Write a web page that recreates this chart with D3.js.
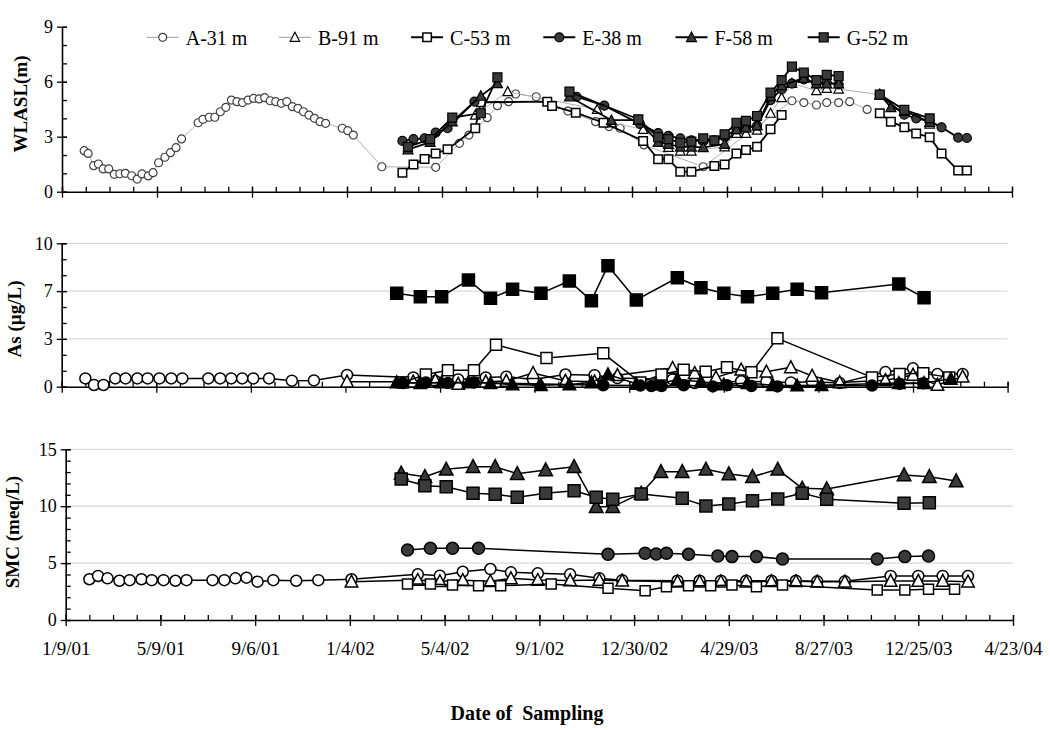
<!DOCTYPE html>
<html><head><meta charset="utf-8">
<script src="https://cdn.jsdelivr.net/npm/d3@7"></script>
<style>
body{margin:0;background:#fff}
svg{display:block;font-family:"Liberation Serif","Times New Roman",serif}
</style></head><body>
<svg id="chart" width="1050" height="730"></svg>
<script>
/* ---------- data ---------- */
const seriesNames=["A-31 m","B-91 m","C-53 m","E-38 m","F-58 m","G-52 m"];
const xTickLabels=["1/9/01","5/9/01","9/6/01","1/4/02","5/4/02","9/1/02","12/30/02","4/29/03","8/27/03","12/25/03","4/23/04"];
const wlTickLabels=["0","3","6","9"];
const asTickLabels=["0","3","7","10"];
const smcTickLabels=["0","5","10","15"];

// water level (WLASL, m)
const wlA_dates=["2001-02-06","2001-02-11","2001-02-18","2001-02-24","2001-03-02","2001-03-09","2001-03-16","2001-03-23","2001-03-30",
 "2001-04-07","2001-04-14","2001-04-20","2001-04-28","2001-05-04","2001-05-11","2001-05-19","2001-05-26","2001-06-02","2001-06-09",
 "2001-06-30","2001-07-06","2001-07-14","2001-07-21","2001-07-28","2001-08-04","2001-08-11","2001-08-18","2001-08-25","2001-09-01",
 "2001-09-08","2001-09-15","2001-09-22","2001-09-29","2001-10-06","2001-10-13","2001-10-20","2001-10-27","2001-11-03","2001-11-10",
 "2001-11-17","2001-11-24","2001-12-01","2001-12-08","2001-12-29","2002-01-05","2002-01-12","2002-02-17","2002-04-26","2002-05-26",
 "2002-06-07","2002-06-30","2002-07-13","2002-07-27","2002-08-05","2002-08-31","2002-10-10","2002-11-14","2002-12-01","2002-12-15",
 "2003-01-14","2003-03-30","2003-07-20","2003-08-04","2003-08-20","2003-09-02","2003-09-17","2003-10-01","2003-10-23"];
const wlA=[2.24,2.09,1.42,1.51,1.24,1.24,0.95,0.98,1.0,0.87,0.69,0.97,0.86,1.04,1.58,1.88,2.13,2.40,2.88,3.76,3.95,4.06,4.06,4.36,
 4.60,5.0,4.91,4.86,5.0,5.09,5.06,5.13,4.96,4.91,4.82,4.91,4.64,4.55,4.36,4.18,4.0,3.82,3.73,3.46,3.33,3.09,1.36,1.33,2.64,3.09,
 4.04,4.69,4.91,5.33,5.18,4.40,3.82,3.55,3.46,2.55,1.36,4.96,4.86,4.73,4.86,4.86,4.91,4.49];

const wlB_dates=["2002-06-15","2002-07-26","2002-11-16","2002-12-04","2003-01-13","2003-02-14","2003-03-01","2003-03-15","2003-04-26",
 "2003-05-11","2003-05-23","2003-06-06","2003-06-23","2003-07-07","2003-07-20","2003-08-20","2003-09-02","2003-09-17","2003-11-08","2004-01-10"];
const wlB=[4.18,5.46,4.49,3.76,3.40,2.42,2.22,2.22,2.45,3.18,3.18,3.36,4.28,5.13,5.91,5.51,5.64,5.6,5.30,3.69];

const wlC_dates=["2002-03-15","2002-03-29","2002-04-12","2002-04-26","2002-05-11","2002-06-15","2002-06-22","2002-09-14","2002-09-20",
 "2002-10-20","2002-11-24","2003-01-13","2003-02-01","2003-02-14","2003-03-01","2003-03-15","2003-04-13","2003-04-26","2003-05-11",
 "2003-05-23","2003-06-06","2003-06-23","2003-07-07","2003-09-01","2003-11-08","2003-11-22","2003-12-09","2003-12-24","2004-01-10",
 "2004-01-25","2004-02-15","2004-02-26"];
const wlC=[1.04,1.49,1.78,2.09,2.31,3.46,4.88,4.91,4.68,4.31,3.76,2.77,1.77,1.77,1.09,1.09,1.40,1.49,2.09,2.27,2.45,3.40,4.18,null,
 4.28,3.82,3.51,3.18,2.97,2.09,1.15,1.15];

const wlE_dates=["2002-03-15","2002-03-29","2002-04-12","2002-04-26","2002-05-11","2002-06-14","2002-08-15","2002-10-21","2002-11-25",
 "2003-01-09","2003-02-01","2003-02-14","2003-03-01","2003-03-15","2003-03-30","2003-04-13","2003-04-26","2003-05-11","2003-05-23",
 "2003-06-06","2003-06-23","2003-07-07","2003-07-20","2003-08-04","2003-08-20","2003-09-02","2003-09-17","2003-10-15","2003-11-08",
 "2003-12-09","2003-12-24","2004-01-10","2004-01-25","2004-02-15","2004-02-26"];
const wlE=[2.77,2.87,2.91,3.22,3.46,4.91,null,5.18,4.69,3.7,3.2,3.05,2.91,2.8,2.75,2.8,3.0,3.4,3.5,3.6,5.0,5.59,5.9,6.13,5.9,5.95,5.85,
 null,5.3,4.2,4.0,3.85,3.51,2.95,2.93];

const wlF_dates=["2002-03-22","2002-04-19","2002-05-17","2002-06-22","2002-07-13","2002-08-20","2002-10-12","2002-12-04","2003-01-07",
 "2003-02-01","2003-02-14","2003-03-01","2003-03-15","2003-03-30","2003-04-26","2003-05-11","2003-05-23","2003-06-06","2003-06-23",
 "2003-07-07","2003-08-04","2003-08-20","2003-09-02","2003-09-17","2003-10-15","2003-11-08","2003-11-22","2003-12-09","2004-01-10"];
const wlF=[2.3,2.7,3.82,5.22,5.91,null,5.18,3.9,3.9,2.7,2.6,2.45,2.45,2.42,2.6,3.4,3.5,3.6,5.2,5.8,6.2,5.9,5.9,5.9,null,5.3,4.6,4.4,3.8];

const wlG_dates=["2002-03-22","2002-04-19","2002-05-17","2002-06-22","2002-07-13","2002-08-20","2002-10-12","2003-01-07","2003-02-01",
 "2003-02-14","2003-03-01","2003-03-15","2003-03-30","2003-04-13","2003-04-26","2003-05-11","2003-05-23","2003-06-06","2003-06-23",
 "2003-07-07","2003-07-20","2003-08-04","2003-08-20","2003-09-02","2003-09-17","2003-10-15","2003-11-08","2003-12-09","2004-01-10"];
const wlG=[2.45,2.87,4.04,4.28,6.24,null,5.46,3.95,2.97,2.87,2.67,2.73,2.91,2.8,3.13,3.76,3.86,4.13,5.4,6.09,6.82,6.49,6.09,6.37,6.31,
 null,5.3,4.46,4.0];

// water quality sampling (As, SMC)
const datesA=["2001-02-08","2001-02-19","2001-03-03","2001-03-18","2001-03-31","2001-04-15","2001-04-28","2001-05-13","2001-05-28",
 "2001-06-11","2001-07-14","2001-07-29","2001-08-12","2001-08-26","2001-09-09","2001-09-29","2001-10-28","2001-11-25","2002-01-06",
 "2002-03-31","2002-04-28","2002-05-27","2002-07-01","2002-07-27","2002-08-30","2002-10-10","2002-11-16","2002-12-15",
 "2003-02-23","2003-03-23","2003-04-19","2003-05-21","2003-06-22","2003-07-23","2003-08-19","2003-09-23","2003-11-20","2003-12-25",
 "2004-01-25","2004-02-26"];
const asA=[0.58,0.12,0.12,0.58,0.58,0.58,0.58,0.58,0.58,0.58,0.58,0.58,0.58,0.58,0.58,0.58,0.42,0.44,0.82,
 0.65,0.4,0.51,0.65,0.7,0.5,0.85,0.8,0.6,0.51,0.26,0.3,0.38,0.35,0.3,0.35,0.25,1.02,1.28,0.88,0.88];
const smcA=[3.58,3.87,3.66,3.45,3.5,3.58,3.5,3.5,3.45,3.5,3.5,3.5,3.66,3.72,3.37,3.5,3.45,3.5,3.58,
 4.01,3.89,4.24,4.48,4.19,4.1,4.01,3.66,3.5,3.45,3.45,3.45,3.45,3.45,3.45,3.4,3.4,3.87,3.87,3.87,3.87];

const datesB=["2002-01-06","2002-03-31","2002-04-28","2002-05-27","2002-07-01","2002-07-27","2002-08-30","2002-10-10","2002-11-16",
 "2002-12-15","2003-02-23","2003-03-23","2003-04-19","2003-05-21","2003-06-22","2003-07-23","2003-08-19","2003-09-23","2003-11-20",
 "2003-12-25","2004-01-25","2004-02-26"];
const asB=[0.35,0.35,0.45,0.19,0.35,0.4,0.95,0.4,0.35,0.8,1.3,0.95,0.65,1.18,1.05,1.35,0.75,0.3,0.45,0.82,0.12,0.7];
const smcB=[3.37,3.51,3.4,3.5,3.4,3.66,3.51,3.47,3.51,3.45,3.37,3.37,3.37,3.37,3.4,3.4,3.37,3.37,3.43,3.43,3.43,3.37];

const datesC=["2002-03-18","2002-04-16","2002-05-14","2002-06-16","2002-07-14","2002-09-16","2002-11-27","2003-01-13","2003-02-09",
 "2003-03-09","2003-04-06","2003-05-03","2003-06-03","2003-07-06","2003-11-03","2003-12-08","2004-01-07","2004-02-09"];
const asC=[0.3,0.85,1.14,1.14,2.92,2.0,2.33,0.3,0.85,1.18,1.05,1.35,1.0,3.37,0.65,0.88,0.93,0.65];
const smcC=[3.16,3.16,3.08,3.02,3.02,3.16,2.78,2.58,2.93,3.02,3.02,3.08,2.93,3.08,2.64,2.64,2.7,2.7];

const datesE=["2002-03-18","2002-04-16","2002-05-14","2002-06-16","2002-11-27","2003-01-13","2003-01-27","2003-02-09","2003-03-09",
 "2003-04-15","2003-05-03","2003-06-03","2003-07-06","2003-11-03","2003-12-08","2004-01-07"];
const asE=[0.25,0.3,0.25,0.3,0.1,0.08,0.05,0.05,0.1,0.02,0.1,0.05,0.02,0.08,0.2,0.24];
const smcE=[6.15,6.30,6.30,6.30,5.77,5.86,5.8,5.86,5.77,5.62,5.57,5.57,5.36,5.36,5.57,5.62];

const datesF=["2002-03-10","2002-04-09","2002-05-06","2002-06-09","2002-07-07","2002-08-04","2002-09-09","2002-10-15","2002-11-12",
 "2002-12-03","2003-01-08","2003-02-02","2003-03-01","2003-03-31","2003-04-29","2003-05-29","2003-06-30","2003-07-31","2003-08-31",
 "2003-12-07","2004-01-08","2004-02-11"];
const asF=[0.3,0.25,0.3,0.3,0.25,0.15,0.1,0.15,0.3,0.85,0.2,0.15,0.5,0.35,0.15,0.25,0.1,0.08,0.1,0.25,0.25,0.55];
const smcF=[12.89,12.59,13.24,13.47,13.47,12.85,13.18,13.47,9.96,9.96,11.13,13.03,13.03,13.24,12.83,12.59,13.24,11.57,11.51,12.74,12.59,12.21];

const datesG=["2002-03-10","2002-04-09","2002-05-06","2002-06-09","2002-07-07","2002-08-04","2002-09-09","2002-10-15","2002-11-12",
 "2002-12-03","2003-01-08","2003-03-01","2003-03-31","2003-04-29","2003-05-29","2003-06-30","2003-07-31","2003-08-31","2003-12-07","2004-01-08"];
const asG=[6.51,6.28,6.28,7.44,6.16,6.79,6.51,7.37,6.0,8.44,6.05,7.6,6.9,6.51,6.28,6.51,6.79,6.56,7.16,6.21];
const smcG=[12.39,11.8,11.71,11.13,11.05,10.78,11.13,11.36,10.78,10.6,11.07,10.69,10.02,10.19,10.48,10.63,11.13,10.6,10.25,10.31];

/* ---------- setup ---------- */
const parse=d3.timeParse("%Y-%m-%d");
const t0=parse("2001-01-09"), t1=parse("2004-04-23");
const majorTicks=d3.range(11).map(i=>d3.timeDay.offset(t0,i*120));
const minorTicks=d3.range(41).map(i=>d3.timeDay.offset(t0,i*30));
const svg=d3.select("#chart");
const DARK="#3a3a3a", GRAYLINE="#b0b0b0";

function shape(type,s){
  const h=s/2;
  if(type==="circle") return `M${-h},0A${h},${h} 0 1,0 ${h},0A${h},${h} 0 1,0 ${-h},0Z`;
  if(type==="square") return `M${-h},${-h}H${h}V${h}H${-h}Z`;
  return `M0,${-h*1.05}L${h},${h*0.85}L${-h},${h*0.85}Z`;
}

function drawSeries(g,x,y,dates,vals,st){
  const pts=dates.map((d,i)=>({t:parse(d),v:vals[i]}));
  const line=d3.line().defined(d=>d.v!=null).x(d=>x(d.t)).y(d=>y(d.v));
  g.append("path").datum(pts).attr("d",line).attr("fill","none")
   .attr("stroke",st.line).attr("stroke-width",st.lw).attr("stroke-linejoin","round");
  g.append("g").selectAll("path").data(pts.filter(d=>d.v!=null)).join("path")
   .attr("transform",d=>`translate(${x(d.t)},${y(d.v)})`)
   .attr("d",shape(st.shape,st.size))
   .attr("fill",st.fill).attr("stroke",st.stroke).attr("stroke-width",st.sw);
}

function drawPanel(p){
  const x=d3.scaleTime().domain([t0,t1]).range(p.xr);
  const y=d3.scaleLinear().domain([0,p.max]).range(p.yr);
  const g=svg.append("g");
  const x0=p.xr[0];

  if(p.grid){
    g.append("g").selectAll("line").data(p.majors.slice(1)).join("line")
     .attr("x1",x0).attr("x2",p.xr[1]).attr("y1",d=>y(d)).attr("y2",d=>y(d))
     .attr("stroke","#d9d9d9").attr("stroke-width",1.2);
  }

  // y axis
  const minorsY=d3.range(0,p.minorN+1).map(i=>i*p.max/p.minorN);
  g.append("g").attr("transform",`translate(${x0},0)`)
   .call(d3.axisLeft(y).tickValues(minorsY).tickSize(0).tickSizeOuter(0).tickFormat(""))
   .call(s=>s.select(".domain").remove())
   .call(s=>s.selectAll(".tick line").attr("x1",0).attr("x2",5).attr("stroke","#000").attr("stroke-width",1.3));
  g.append("g").attr("transform",`translate(${x0},0)`)
   .call(d3.axisLeft(y).tickValues(p.majors).tickSize(5).tickSizeOuter(0).tickFormat((d,i)=>p.labels[i]))
   .call(s=>s.select(".domain").attr("stroke","#000").attr("stroke-width",1.6))
   .call(s=>s.selectAll(".tick line").attr("x1",-5).attr("x2",5).attr("stroke","#000").attr("stroke-width",1.3))
   .call(s=>s.selectAll(".tick text").attr("x",-9).attr("font-size",18)
     .attr("font-family","Liberation Serif, Times New Roman, serif").attr("fill","#000"));

  // x axis
  const yAx=p.yr[0];
  g.append("g").attr("transform",`translate(0,${yAx})`)
   .call(d3.axisBottom(x).tickValues(minorTicks).tickSize(0).tickSizeOuter(0).tickFormat(""))
   .call(s=>s.select(".domain").remove())
   .call(s=>s.selectAll(".tick line").attr("y1",-5).attr("y2",0).attr("stroke","#000").attr("stroke-width",1.3));
  g.append("g").attr("transform",`translate(0,${yAx})`)
   .call(d3.axisBottom(x).tickValues(majorTicks).tickSize(6).tickSizeOuter(0)
     .tickFormat((d,i)=>p.xLabels?xTickLabels[i]:""))
   .call(s=>s.select(".domain").attr("stroke","#000").attr("stroke-width",1.6))
   .call(s=>s.selectAll(".tick line").attr("y1",-5).attr("y2",6).attr("stroke","#000").attr("stroke-width",1.3))
   .call(s=>s.selectAll(".tick text").attr("y",35).attr("dy",0).attr("font-size",19)
     .attr("font-family","Liberation Serif, Times New Roman, serif").attr("fill","#000"));

  // axis title
  g.append("text").attr("transform",`translate(${p.titleX},${p.titleY}) rotate(-90)`)
   .attr("text-anchor","middle").attr("font-weight","bold").attr("font-size",19).text(p.title);

  const sg=g.append("g");
  p.series.forEach(s=>drawSeries(sg,x,y,s[0],s[1],s[2]));
}

/* ---------- styles ---------- */
const st=(shape,size,fill,stroke,sw,line,lw)=>({shape,size,fill,stroke,sw,line,lw});
const topSt=[st("circle",8,"#fff","#404040",1.2,GRAYLINE,1),st("triangle",9.5,"#fff","#000",1.2,GRAYLINE,1),
  st("square",8.5,"#fff","#000",1.5,"#000",1.8),st("circle",9,DARK,"#000",1.2,"#000",1.8),
  st("triangle",10,DARK,"#000",1.2,"#000",1.8),st("square",9,DARK,"#000",1.2,"#000",1.8)];
const midSt=[st("circle",11,"#fff","#000",1.5,"#000",1.5),st("triangle",12.5,"#fff","#000",1.5,"#000",1.5),
  st("square",11,"#fff","#000",1.5,"#000",1.5),st("circle",11,"#000","#000",1.5,"#000",1.5),
  st("triangle",12.5,"#000","#000",1.5,"#000",1.5),st("square",12,"#000","#000",1.5,"#000",1.5)];
const botSt=[st("circle",11,"#fff","#000",1.5,"#000",1.5),st("triangle",12.5,"#fff","#000",1.5,"#000",1.5),
  st("square",10,"#fff","#000",1.5,"#000",1.5),st("circle",12,DARK,"#000",1.5,"#000",1.5),
  st("triangle",13.5,DARK,"#000",1.5,"#000",1.5),st("square",12,DARK,"#000",1.5,"#000",1.5)];

/* ---------- panels ---------- */
drawPanel({title:"WLASL(m)",titleX:27,titleY:104,xr:[62,1012],yr:[191.7,26.7],max:9,minorN:9,
  majors:[0,3,6,9],labels:wlTickLabels,grid:false,xLabels:false,
  series:[[wlA_dates,wlA,topSt[0]],[wlB_dates,wlB,topSt[1]],[wlC_dates,wlC,topSt[2]],
          [wlE_dates,wlE,topSt[3]],[wlF_dates,wlF,topSt[4]],[wlG_dates,wlG,topSt[5]]]});

drawPanel({title:"As (µg/L)",titleX:21,titleY:319,xr:[61.7,1007.6],yr:[386.7,243.3],max:10,minorN:9,
  majors:[0,10/3,20/3,10],labels:asTickLabels,grid:true,xLabels:false,
  series:[[datesA,asA,midSt[0]],[datesB,asB,midSt[1]],[datesC,asC,midSt[2]],
          [datesE,asE,midSt[3]],[datesF,asF,midSt[4]],[datesG,asG,midSt[5]]]});

drawPanel({title:"SMC (meq/L)",titleX:19,titleY:532,xr:[65.7,1013],yr:[620,449.3],max:15,minorN:15,
  majors:[0,5,10,15],labels:smcTickLabels,grid:true,xLabels:true,
  series:[[datesA,smcA,botSt[0]],[datesB,smcB,botSt[1]],[datesC,smcC,botSt[2]],
          [datesE,smcE,botSt[3]],[datesF,smcF,botSt[4]],[datesG,smcG,botSt[5]]]});

/* ---------- legend ---------- */
const lg=svg.append("g").attr("transform","translate(0,37.3)");
seriesNames.forEach((n,i)=>{
  const cx=162.7+i*132.2, s=topSt[i];
  lg.append("line").attr("x1",cx-16).attr("x2",cx+16)
    .attr("stroke",s.line).attr("stroke-width",i<2?1.2:2);
  lg.append("path").attr("transform",`translate(${cx},0)`).attr("d",shape(s.shape,s.size))
    .attr("fill",s.fill).attr("stroke",s.stroke).attr("stroke-width",s.sw);
  lg.append("text").attr("x",cx+23).attr("y",7.3).attr("font-size",20).text(n);
});

svg.append("text").attr("x",527).attr("y",720).attr("text-anchor","middle")
  .attr("font-weight","bold").attr("font-size",20).attr("xml:space","preserve").text("Date of  Sampling");
</script>
</body></html>
